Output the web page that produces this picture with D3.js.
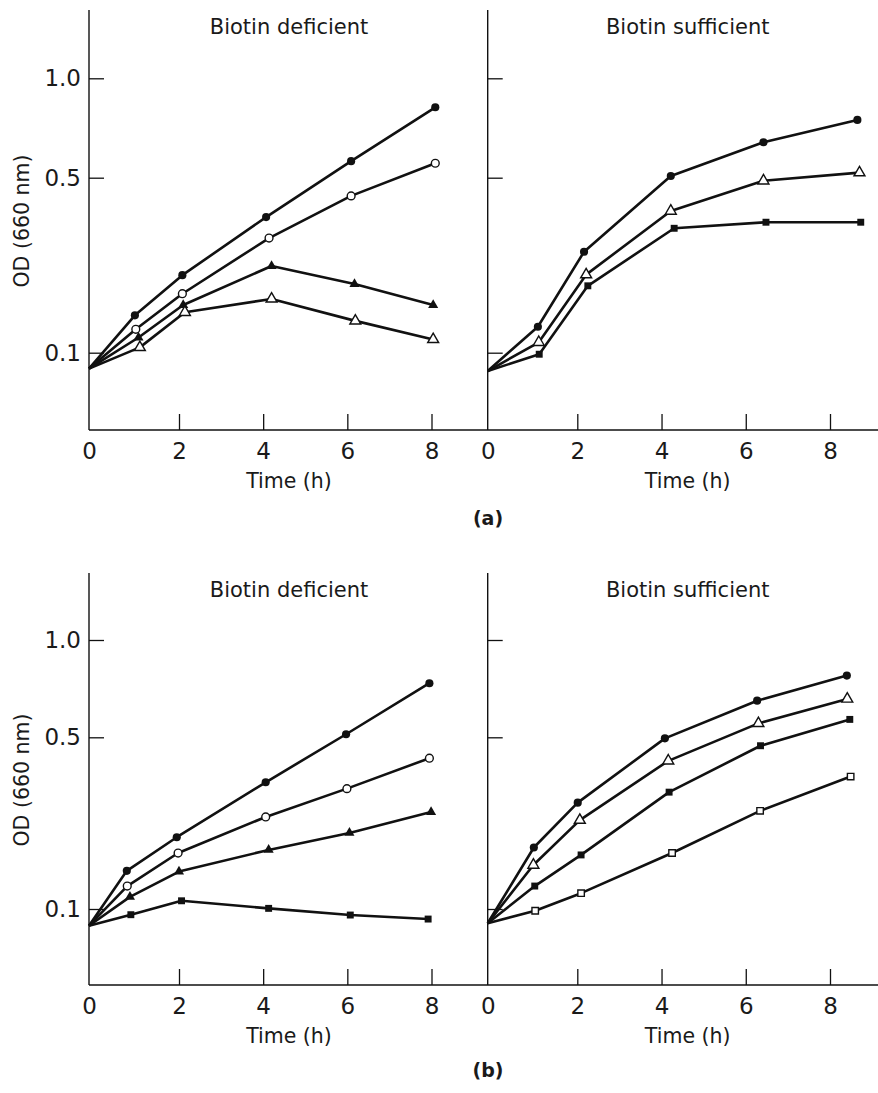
<!DOCTYPE html>
<html>
<head>
<meta charset="utf-8">
<script src="https://cdn.jsdelivr.net/npm/d3@7"></script>
<style>
  html, body { margin: 0; padding: 0; background: #fff; }
  svg text { font-family: "DejaVu Sans", "Open Sans", sans-serif; fill: #1a1a1a; }
</style>
</head>
<body>
<svg id="chart" width="878" height="1093"></svg>
<script>
// ---------------- DATA ----------------
const panelTitles = ["Biotin deficient", "Biotin sufficient"];
const rowLabels = ["(a)", "(b)"];
const yTickValues = [0.1, 0.5, 1.0];
const yTickLabels = ["0.1", "0.5", "1.0"];
const xTickValues = [0, 2, 4, 6, 8];
const xAxisTitle = "Time (h)";
const yAxisTitle = "OD (660 nm)";

// (a) Biotin deficient
const aDefStart = 0.0864;
const aDefFilledCircleT = [1.02, 2.08, 4.07, 6.09, 8.09];
const aDefFilledCircleOD = [0.141, 0.204, 0.348, 0.561, 0.817];
const aDefOpenCircleT = [1.04, 2.08, 4.14, 6.09, 8.09];
const aDefOpenCircleOD = [0.124, 0.172, 0.287, 0.423, 0.553];
const aDefFilledTriT = [1.10, 2.10, 4.20, 6.17, 8.04];
const aDefFilledTriOD = [0.115, 0.155, 0.222, 0.188, 0.155];
const aDefOpenTriT = [1.13, 2.14, 4.20, 6.19, 8.04];
const aDefOpenTriOD = [0.105, 0.145, 0.164, 0.134, 0.113];

// (a) Biotin sufficient
const aSufStart = 0.0845;
const aSufFilledCircleT = [1.12, 2.16, 4.22, 6.42, 8.65];
const aSufFilledCircleOD = [0.127, 0.253, 0.506, 0.640, 0.748];
const aSufOpenTriT = [1.14, 2.21, 4.22, 6.42, 8.70];
const aSufOpenTriOD = [0.110, 0.205, 0.368, 0.486, 0.518];
const aSufFilledSquareT = [1.15, 2.25, 4.30, 6.48, 8.73];
const aSufFilledSquareOD = [0.0986, 0.185, 0.314, 0.332, 0.332];

// (b) Biotin deficient
const bDefStart = 0.0855;
const bDefFilledCircleT = [0.84, 1.95, 4.06, 5.97, 7.95];
const bDefFilledCircleOD = [0.143, 0.196, 0.328, 0.511, 0.735];
const bDefOpenCircleT = [0.85, 1.98, 4.06, 5.99, 7.95];
const bDefOpenCircleOD = [0.124, 0.169, 0.237, 0.309, 0.411];
const bDefFilledTriT = [0.91, 2.00, 4.13, 6.05, 7.99];
const bDefFilledTriOD = [0.112, 0.142, 0.174, 0.204, 0.248];
const bDefFilledSquareT = [0.93, 2.06, 4.13, 6.07, 7.92];
const bDefFilledSquareOD = [0.0948, 0.108, 0.1006, 0.0945, 0.091];

// (b) Biotin sufficient
const bSufStart = 0.0875;
const bSufFilledCircleT = [1.03, 2.01, 4.08, 6.27, 8.40];
const bSufFilledCircleOD = [0.178, 0.271, 0.495, 0.649, 0.776];
const bSufOpenTriT = [1.02, 2.06, 4.16, 6.30, 8.41];
const bSufOpenTriOD = [0.151, 0.230, 0.401, 0.552, 0.657];
const bSufFilledSquareT = [1.05, 2.09, 4.18, 6.35, 8.47];
const bSufFilledSquareOD = [0.124, 0.166, 0.299, 0.462, 0.568];
const bSufOpenSquareT = [1.06, 2.09, 4.25, 6.34, 8.49];
const bSufOpenSquareOD = [0.0984, 0.116, 0.169, 0.251, 0.346];

// ---------------- BUILD ----------------
function series(marker, start, ts, ods) {
  return { marker, points: [{ t: 0, v: start, m: false }].concat(ts.map((t, i) => ({ t, v: ods[i], m: true }))) };
}

const rows = [
  {
    label: rowLabels[0],
    top: 10, axisY: 430, yRange: [352.7, 177.7, 78.3],
    labelY: 525,
    panels: [
      [
        series("filledCircle", aDefStart, aDefFilledCircleT, aDefFilledCircleOD),
        series("openCircle", aDefStart, aDefOpenCircleT, aDefOpenCircleOD),
        series("filledTri", aDefStart, aDefFilledTriT, aDefFilledTriOD),
        series("openTri", aDefStart, aDefOpenTriT, aDefOpenTriOD)
      ],
      [
        series("filledCircle", aSufStart, aSufFilledCircleT, aSufFilledCircleOD),
        series("openTri", aSufStart, aSufOpenTriT, aSufOpenTriOD),
        series("filledSquare", aSufStart, aSufFilledSquareT, aSufFilledSquareOD)
      ]
    ]
  },
  {
    label: rowLabels[1],
    top: 573, axisY: 985, yRange: [909, 737.3, 640],
    labelY: 1077,
    panels: [
      [
        series("filledCircle", bDefStart, bDefFilledCircleT, bDefFilledCircleOD),
        series("openCircle", bDefStart, bDefOpenCircleT, bDefOpenCircleOD),
        series("filledTri", bDefStart, bDefFilledTriT, bDefFilledTriOD),
        series("filledSquare", bDefStart, bDefFilledSquareT, bDefFilledSquareOD)
      ],
      [
        series("filledCircle", bSufStart, bSufFilledCircleT, bSufFilledCircleOD),
        series("openTri", bSufStart, bSufOpenTriT, bSufOpenTriOD),
        series("filledSquare", bSufStart, bSufFilledSquareT, bSufFilledSquareOD),
        series("openSquare", bSufStart, bSufOpenSquareT, bSufOpenSquareOD)
      ]
    ]
  }
];

const panelXRanges = [[89, 179, 431.5], [487.7, 577.3, 830]];
const ink = "#111";
const fontFam = '"DejaVu Sans", "Open Sans", sans-serif';

const markerStyles = {
  filledCircle: { type: d3.symbolCircle, size: 52, fill: ink, stroke: "none", sw: 0 },
  openCircle:   { type: d3.symbolCircle, size: 48, fill: "#fff", stroke: ink, sw: 1.4 },
  filledTri:    { type: d3.symbolTriangle, size: 44, fill: ink, stroke: "none", sw: 0 },
  openTri:      { type: d3.symbolTriangle, size: 52, fill: "#fff", stroke: ink, sw: 1.4 },
  filledSquare: { type: d3.symbolSquare, size: 48, fill: ink, stroke: "none", sw: 0 },
  openSquare:   { type: d3.symbolSquare, size: 42, fill: "#fff", stroke: ink, sw: 1.4 }
};

const svg = d3.select("#chart");

rows.forEach(row => {
  const y = d3.scaleLog().domain([0.1, 0.5, 1.0]).range(row.yRange);
  const g = svg.append("g");

  // continuous x-axis baseline
  g.append("line")
    .attr("x1", panelXRanges[0][0]).attr("x2", 878)
    .attr("y1", row.axisY).attr("y2", row.axisY)
    .attr("stroke", ink).attr("stroke-width", 1.4);

  row.panels.forEach((panelSeries, pi) => {
    const x = d3.scaleLinear().domain([0, 2, 8]).range(panelXRanges[pi]);
    const x0 = x(0);
    const pg = g.append("g");

    // y-axis line
    pg.append("line")
      .attr("x1", x0).attr("x2", x0)
      .attr("y1", row.top).attr("y2", row.axisY)
      .attr("stroke", ink).attr("stroke-width", 1.4);

    // inward y ticks
    const yTicks = pg.append("g").attr("transform", `translate(${x0},0)`)
      .call(d3.axisRight(y).tickValues(yTickValues).tickSize(15).tickFormat(""));
    yTicks.select(".domain").remove();
    yTicks.selectAll("line").attr("stroke", ink).attr("stroke-width", 1.3);

    if (pi === 0) {
      const yLab = pg.append("g").attr("transform", `translate(${x0},0)`)
        .call(d3.axisLeft(y).tickValues(yTickValues).tickSize(0).tickPadding(8)
          .tickFormat((d, i) => yTickLabels[i]));
      yLab.select(".domain").remove();
      yLab.selectAll("text").attr("font-size", 23).attr("fill", "#1a1a1a")
        .style("font-family", fontFam);

      pg.append("text")
        .attr("transform", `translate(${x0 - 67},${(row.top + row.axisY) / 2 + 1}) rotate(-90)`)
        .attr("text-anchor", "middle").attr("dominant-baseline", "central")
        .attr("font-size", 20.5).text(yAxisTitle);
    }

    // upward x ticks
    const xTicks = pg.append("g").attr("transform", `translate(0,${row.axisY})`)
      .call(d3.axisTop(x).tickValues(xTickValues.filter(d => d > 0)).tickSize(16).tickFormat(""));
    xTicks.select(".domain").remove();
    xTicks.selectAll("line").attr("stroke", ink).attr("stroke-width", 1.3);

    // x tick labels
    const xLab = pg.append("g").attr("transform", `translate(0,${row.axisY})`)
      .call(d3.axisBottom(x).tickValues(xTickValues).tickSize(0));
    xLab.select(".domain").remove();
    xLab.selectAll("text").attr("y", 28.5).attr("dy", null)
      .attr("font-size", 23).attr("fill", "#1a1a1a")
      .style("font-family", fontFam);

    // x axis title
    pg.append("text")
      .attr("x", x0 + 200).attr("y", row.axisY + 58)
      .attr("text-anchor", "middle").attr("font-size", 20.5).text(xAxisTitle);

    // panel title
    pg.append("text")
      .attr("x", x0 + 200).attr("y", row.top + 24)
      .attr("text-anchor", "middle").attr("font-size", 21).text(panelTitles[pi]);

    // lines
    const line = d3.line().x(d => x(d.t)).y(d => y(d.v));
    panelSeries.forEach(s => {
      pg.append("path").datum(s.points)
        .attr("d", line).attr("fill", "none")
        .attr("stroke", ink).attr("stroke-width", 2.6)
        .attr("stroke-linejoin", "round");
    });
    // markers
    panelSeries.forEach(s => {
      const st = markerStyles[s.marker];
      pg.selectAll(null).data(s.points.filter(p => p.m)).enter().append("path")
        .attr("transform", d => `translate(${x(d.t)},${y(d.v)})`)
        .attr("d", d3.symbol().type(st.type).size(st.size))
        .attr("fill", st.fill).attr("stroke", st.stroke).attr("stroke-width", st.sw);
    });
  });

  g.append("text")
    .attr("x", 488).attr("y", row.labelY)
    .attr("text-anchor", "middle").attr("font-size", 19).attr("font-weight", 700)
    .text(row.label);
});
</script>
</body>
</html>
